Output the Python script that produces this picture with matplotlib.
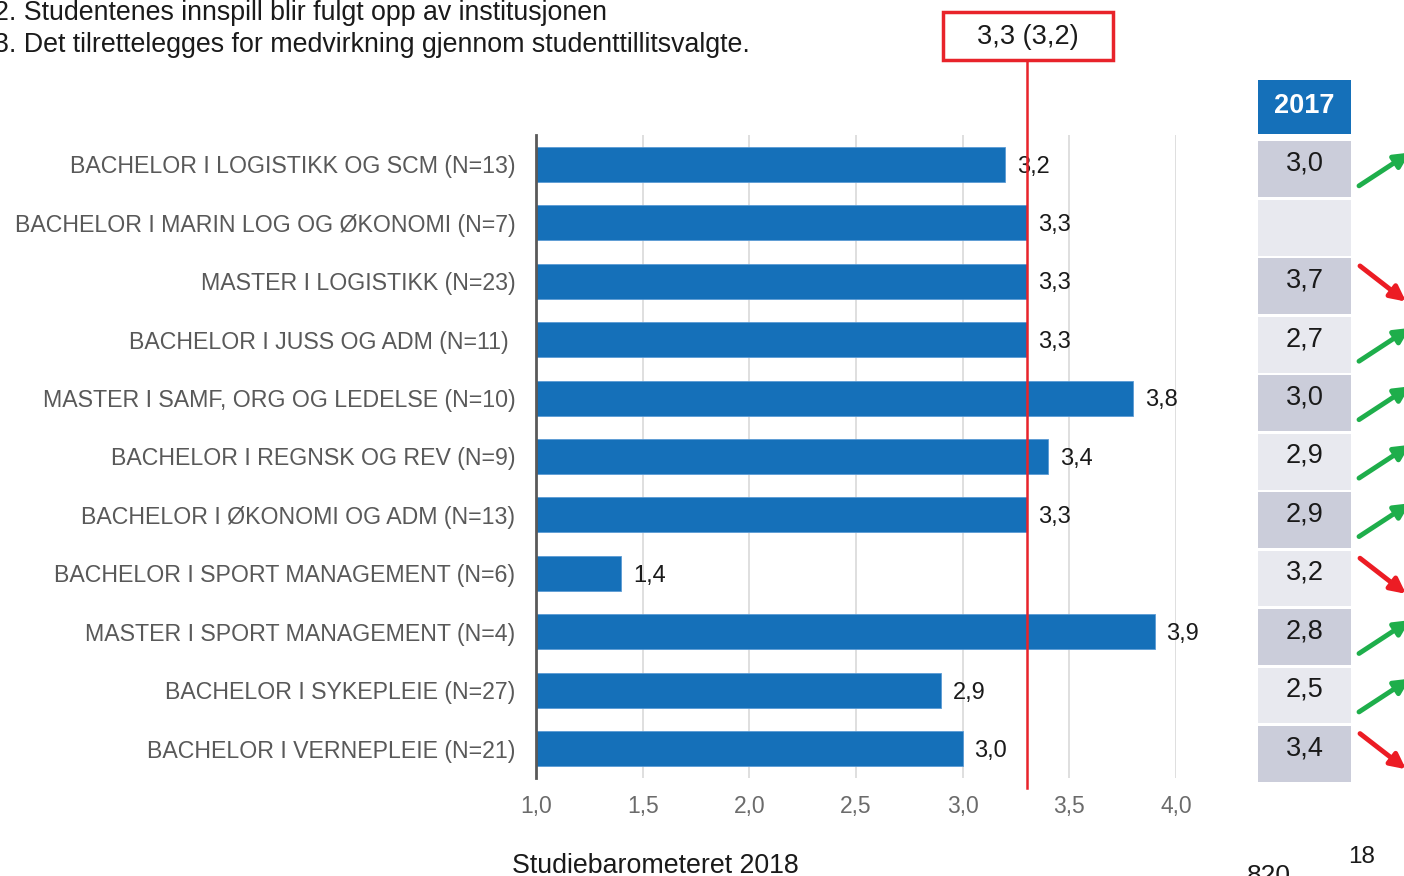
import numpy as np
import matplotlib.pyplot as plt
from matplotlib.patches import Rectangle
from matplotlib.transforms import blended_transform_factory

plt.rcParams['font.family'] = ['Liberation Sans', 'DejaVu Sans']

# Data
programs = [
    'BACHELOR I LOGISTIKK OG SCM (N=13)',
    'BACHELOR I MARIN LOG OG ØKONOMI (N=7)',
    'MASTER I LOGISTIKK (N=23)',
    'BACHELOR I JUSS OG ADM (N=11) ',
    'MASTER I SAMF, ORG OG LEDELSE (N=10)',
    'BACHELOR I REGNSK OG REV (N=9)',
    'BACHELOR I ØKONOMI OG ADM (N=13)',
    'BACHELOR I SPORT MANAGEMENT (N=6)',
    'MASTER I SPORT MANAGEMENT (N=4)',
    'BACHELOR I SYKEPLEIE (N=27)',
    'BACHELOR I VERNEPLEIE (N=21)',
]
score_2018 = [3.2, 3.3, 3.3, 3.3, 3.8, 3.4, 3.3, 1.4, 3.9, 2.9, 3.0]
score_2017 = ['3,0', '', '3,7', '2,7', '3,0', '2,9', '2,9', '3,2', '2,8', '2,5', '3,4']
trend = ['up', None, 'down', 'up', 'up', 'up', 'up', 'down', 'up', 'up', 'down']
avg_2018 = 3.3
avg_label = '3,3 (3,2)'
xticks = [1.0, 1.5, 2.0, 2.5, 3.0, 3.5, 4.0]

W, H = 1404, 876
fig = plt.figure(figsize=(W / 100, H / 100), dpi=100)
ax = fig.add_axes([536 / W, 1 - 778 / H, 640 / W, 643 / H])

blue = '#1570b9'
y = np.arange(len(programs))
ax.barh(y, np.array(score_2018) - 1.0, left=1.0, height=0.6, color=blue,
        edgecolor='#5b9bd5', linewidth=0.6, zorder=2)
for yi, v in zip(y, score_2018):
    ax.text(v + 0.055, yi + 0.04, f'{v:.1f}'.replace('.', ','), va='center', ha='left',
            fontsize=17, color='#1a1a1a', zorder=4)

ax.set_xlim(1.0, 4.0)
ax.set_ylim(len(programs) - 0.5, -0.5)
ax.set_xticks(xticks)
ax.set_xticklabels([f'{t:.1f}'.replace('.', ',') for t in xticks], fontsize=16.5, color='#6b6b6b')
ax.set_yticks(y)
ax.set_yticklabels(programs, fontsize=16.7, color='#595959')
ax.tick_params(axis='y', length=0, pad=15)
ax.tick_params(axis='x', length=0, pad=12)
ax.grid(axis='x', color='#d9d9d9', linewidth=1.2, zorder=0)
ax.set_axisbelow(True)
for s in ['top', 'right', 'bottom']:
    ax.spines[s].set_visible(False)
ax.spines['left'].set_color('#595959')
ax.spines['left'].set_linewidth(2)
ax.spines['left'].set_zorder(5)

# average line and box
bt = blended_transform_factory(ax.transData, fig.transFigure)
ax.plot([avg_2018, avg_2018], [1 - 60 / H, 1 - 788 / H], color='#e8232a', lw=1.8,
        transform=bt, clip_on=False, zorder=6)
fig.patches.append(Rectangle((943 / W, 1 - 60 / H), 170 / W, 48 / H, transform=fig.transFigure,
                             facecolor='white', edgecolor='#e8232a', lw=2.5))
fig.text(1028 / W, 1 - 37 / H, avg_label, ha='center', va='center', fontsize=19.5, color='#1a1a1a')

# 2017 table
tt = blended_transform_factory(fig.transFigure, ax.transData)
cx0, cw = 1258 / W, 93 / W
ax.add_patch(Rectangle((cx0, -0.5 - 0.02), cw, -0.92, transform=tt, facecolor=blue,
                       edgecolor='none', clip_on=False))
ax.text(cx0 + cw / 2, -1.0, '2017', transform=tt, ha='center', va='center',
        fontsize=19.5, fontweight='bold', color='white', clip_on=False)
for i, (val, tr) in enumerate(zip(score_2017, trend)):
    col = '#cbcdda' if i % 2 == 0 else '#e8e9ef'
    ax.add_patch(Rectangle((cx0, i - 0.39), cw, 0.955, transform=tt, facecolor=col,
                           edgecolor='none', clip_on=False))
    ax.text(cx0 + cw / 2, i - 0.01, val, transform=tt, ha='center', va='center',
            fontsize=19.5, color='#1a1a1a', clip_on=False)
    if tr == 'up':
        ax.annotate('', xy=(1410 / W, i - 0.2), xytext=(1359 / W, i + 0.37),
                    xycoords=('figure fraction', 'data'), textcoords=('figure fraction', 'data'),
                    arrowprops=dict(arrowstyle='-|>,head_length=0.9,head_width=0.45',
                                    color='#1eae4b', lw=3.5, shrinkA=0, shrinkB=0))
    elif tr == 'down':
        ax.annotate('', xy=(1406 / W, i + 0.35), xytext=(1360 / W, i - 0.26),
                    xycoords=('figure fraction', 'data'), textcoords=('figure fraction', 'data'),
                    arrowprops=dict(arrowstyle='-|>,head_length=0.9,head_width=0.45',
                                    color='#ec1c24', lw=3.5, shrinkA=0, shrinkB=0))

# header text
fig.text(-6 / W, 1 - 13 / H, '2. Studentenes innspill blir fulgt opp av institusjonen',
         ha='left', va='center', fontsize=19.3, color='#1a1a1a')
fig.text(-6 / W, 1 - 45 / H, '3. Det tilrettelegges for medvirkning gjennom studenttillitsvalgte.',
         ha='left', va='center', fontsize=19.3, color='#1a1a1a')

# footer
fig.text(512 / W, 1 - 866 / H, 'Studiebarometeret 2018', ha='left', va='center', fontsize=19.3, color='#1a1a1a')
fig.text(1247 / W, 1 - 876 / H, '820', ha='left', va='center', fontsize=19, color='#1a1a1a')
fig.text(1348 / W, 1 - 857 / H, '18', ha='left', va='center', fontsize=17.5, color='#1a1a1a')

fig.savefig('out.png', dpi=100)
